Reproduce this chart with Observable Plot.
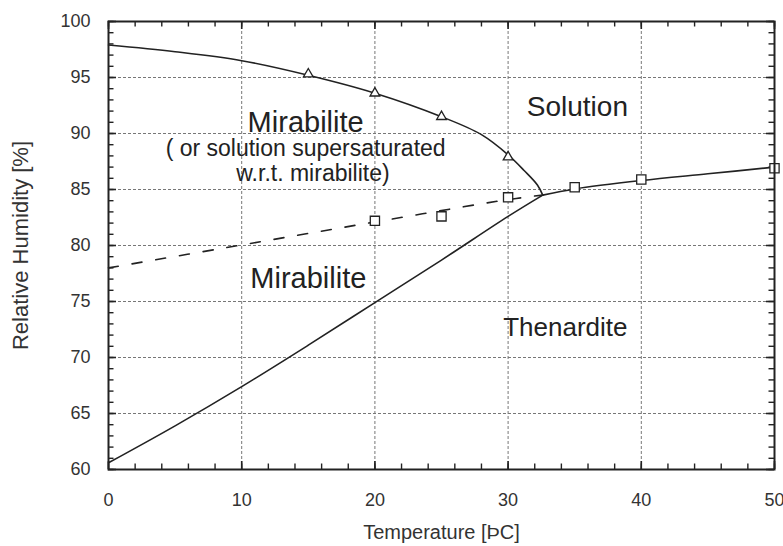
<!DOCTYPE html>
<html>
<head>
<meta charset="utf-8">
<script src="https://cdn.jsdelivr.net/npm/d3@7"></script>
<script src="https://cdn.jsdelivr.net/npm/@observablehq/plot@0.6"></script>
<style>
  html, body { margin: 0; padding: 0; background: white; }
</style>
</head>
<body>
<div id="chart"></div>
<script>
// ---- Data ----
// Mirabilite / solution boundary (solid, upper branch)
const upperT  = [0, 5, 10, 15, 20, 25, 28, 30, 31.2, 32.2, 32.6];
const upperRH = [97.9, 97.3, 96.5, 95.2, 93.6, 91.5, 89.9, 88.1, 86.7, 85.4, 84.5];
// Mirabilite / thenardite boundary (solid, lower branch)
const lowerT  = [0, 5, 10, 15, 20, 25, 30, 32.6];
const lowerRH = [60.6, 63.9, 67.4, 71.1, 74.9, 78.7, 82.6, 84.5];
// Metastable thenardite / solution (dashed)
const dashT  = [0, 10, 20, 30, 32.6];
const dashRH = [78.0, 80.05, 82.1, 84.1, 84.5];
// Thenardite / solution (solid, right)
const rightT  = [32.6, 35, 40, 45, 50];
const rightRH = [84.5, 85.05, 85.8, 86.4, 87.0];
// Measured points
const triT  = [15, 20, 25, 30];
const triRH = [95.3, 93.6, 91.5, 87.9];
const sqT  = [20, 25, 30, 35, 40, 50];
const sqRH = [82.2, 82.6, 84.3, 85.2, 85.9, 86.9];
// Tick values
const xMajor = [0, 10, 20, 30, 40, 50];
const xMinor = d3.range(0, 51, 2);
const yMajor = [60, 65, 70, 75, 80, 85, 90, 95, 100];
const yMinor = d3.range(60, 101, 1);
// Region labels
const labelText = ["Mirabilite", "( or solution supersaturated", "w.r.t. mirabilite)", "Solution", "Mirabilite", "Thenardite"];
const labelT    = [14.8, 14.8, 15.35, 35.2, 15.0, 34.3];
const labelRH   = [91.0, 88.66, 86.45, 92.4, 77.05, 72.7];
const labelSize = [29, 23, 23, 28, 29, 26];

const xTitle = "Temperature [ÞC]";
const yTitle = "Relative Humidity [%]";

// ---- Build ----
const zip = (a, b) => a.map((v, i) => ({t: v, rh: b[i]}));
const W = 783, H = 546;
const mL = 108, mR = 9, mT = 21, mB = 77;
const pw = W - mL - mR, ph = H - mT - mB;
const xDom = [0, 50], yDom = [60, 100];
const xPer = (xDom[1] - xDom[0]) / pw;   // data units per pixel
const yPer = (yDom[1] - yDom[0]) / ph;
const ink = "#222";
const labels = labelText.map((s, i) => ({s, t: labelT[i], rh: labelRH[i], size: labelSize[i]}));

// inward tick marks on all four sides (lengths in pixels, converted through the scale span)
const ticksXY = (vals, len, sw) => [
  Plot.ruleX(vals, {x: d => d, y1: yDom[0], y2: yDom[0] + len * yPer, stroke: ink, strokeWidth: sw}),
  Plot.ruleX(vals, {x: d => d, y1: yDom[1] - len * yPer, y2: yDom[1], stroke: ink, strokeWidth: sw})
];
const ticksYX = (vals, len, sw) => [
  Plot.ruleY(vals, {y: d => d, x1: xDom[0], x2: xDom[0] + len * xPer, stroke: ink, strokeWidth: sw}),
  Plot.ruleY(vals, {y: d => d, x1: xDom[1] - len * xPer, x2: xDom[1], stroke: ink, strokeWidth: sw})
];

const chart = Plot.plot({
  width: W, height: H,
  marginLeft: mL, marginRight: mR, marginTop: mT, marginBottom: mB,
  style: {fontFamily: "'Liberation Sans', Arial, sans-serif", background: "white", color: ink, overflow: "visible"},
  x: {domain: xDom},
  y: {domain: yDom},
  marks: [
    Plot.gridX(xMajor.slice(1, -1), {stroke: "#777", strokeOpacity: 1, strokeDasharray: "3,2"}),
    Plot.gridY(yMajor.slice(1, -1), {stroke: "#777", strokeOpacity: 1, strokeDasharray: "3,2"}),
    ...ticksXY(xMinor, 5.5, 1.4),
    ...ticksXY(xMajor, 8, 1.6),
    ...ticksYX(yMinor, 5.5, 1.4),
    ...ticksYX(yMajor, 8, 1.6),
    Plot.axisX(xMajor, {tickSize: 0, tickPadding: 24, fontSize: 18, label: null, color: "#333"}),
    Plot.axisY(yMajor, {tickSize: 0, tickPadding: 18, fontSize: 18, label: null, color: "#333"}),
    // curves
    Plot.line(zip(upperT, upperRH), {x: "t", y: "rh", curve: "catmull-rom", stroke: ink, strokeWidth: 1.6}),
    Plot.line(zip(lowerT, lowerRH), {x: "t", y: "rh", curve: "catmull-rom", stroke: ink, strokeWidth: 1.6}),
    Plot.line(zip(dashT, dashRH), {x: "t", y: "rh", curve: "catmull-rom", stroke: ink, strokeWidth: 1.6, strokeDasharray: "10,14"}),
    Plot.line(zip(rightT, rightRH), {x: "t", y: "rh", curve: "catmull-rom", stroke: ink, strokeWidth: 1.6}),
    // points
    Plot.dot(zip(triT, triRH), {x: "t", y: "rh", symbol: "triangle", r: 3.6, stroke: ink, fill: "white", strokeWidth: 1.3}),
    Plot.dot(zip(sqT, sqRH), {x: "t", y: "rh", symbol: "square", r: 5.2, stroke: ink, fill: "white", strokeWidth: 1.3}),
    // region labels
    Plot.text(labels, {x: "t", y: "rh", text: "s", fontSize: d => d.size, fill: ink}),
    // axis titles
    Plot.text([xTitle], {frameAnchor: "bottom", dy: 69, text: d => d, fontSize: 20, fill: "#333"}),
    Plot.text([yTitle], {frameAnchor: "left", dx: -88, rotate: -90, textAnchor: "middle", text: d => d, fontSize: 22, fill: "#333"}),
    Plot.frame({stroke: ink, strokeWidth: 2})
  ]
});
document.getElementById("chart").appendChild(chart);
</script>
</body>
</html>
